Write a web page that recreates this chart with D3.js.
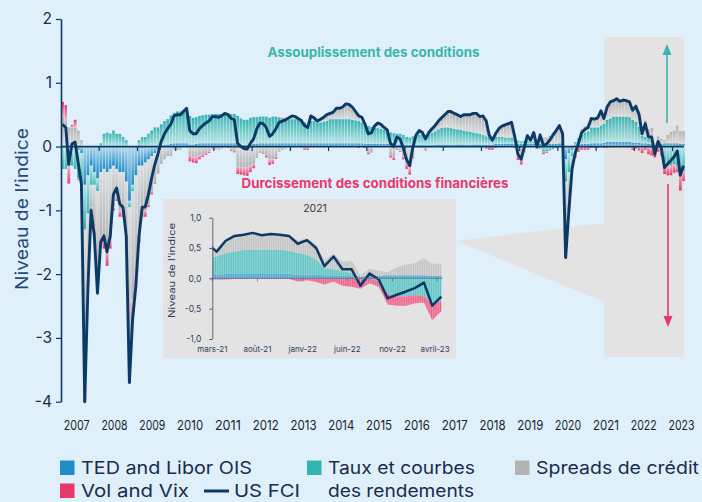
<!DOCTYPE html>
<html lang="fr">
<head>
<meta charset="UTF-8">
<title>US FCI et composantes</title>
<script src="https://d3js.org/d3.v7.min.js"></script>
<style>
  body { margin: 0; background: #dff0fb; }
  svg { display: block; font-family: Inter, 'Open Sans', sans-serif; }
</style>
</head>
<body>
<svg id="chart" width="702" height="502"></svg>
<script>
// monthly values, Jan 2007 -> Apr 2023
const fci = [
  0.35, 0.3, -0.28, 0.04, 0.07, -0.27, -0.6, -4.0, -2.2, -1.0, -1.4, -2.3,
  -1.5, -1.4, -1.65, -1.4, -0.75, -0.65, -0.9, -0.95, -1.4, -3.7, -2.7, -2.2,
  -1.4, -0.95, -0.95, -0.75, -0.5, -0.28, -0.12, 0.08, 0.2, 0.28, 0.35, 0.48,
  0.5, 0.5, 0.55, 0.6, 0.25, 0.2, 0.2, 0.28, 0.33, 0.37, 0.4, 0.47,
  0.47, 0.46, 0.48, 0.52, 0.5, 0.44, 0.42, 0.05, 0.0, -0.03, -0.04, 0.05,
  0.12, 0.28, 0.37, 0.36, 0.3, 0.16, 0.2, 0.28, 0.38, 0.4, 0.42, 0.45,
  0.48, 0.47, 0.44, 0.41, 0.33, 0.3, 0.48, 0.45, 0.4, 0.43, 0.46, 0.5,
  0.52, 0.54, 0.6, 0.6, 0.62, 0.67, 0.66, 0.62, 0.55, 0.48, 0.46, 0.35,
  0.2, 0.22, 0.32, 0.37, 0.35, 0.3, 0.26, 0.05, 0.0, 0.15, 0.12, -0.02,
  -0.2, -0.3, -0.02, 0.18, 0.25, 0.22, 0.12, 0.22, 0.28, 0.33, 0.4, 0.45,
  0.5, 0.55, 0.55, 0.52, 0.5, 0.47, 0.5, 0.5, 0.5, 0.52, 0.52, 0.47,
  0.48, 0.4, 0.18, 0.1, 0.2, 0.28, 0.32, 0.34, 0.36, 0.38, 0.15, -0.12,
  -0.2, 0.0, 0.17, 0.1, 0.22, 0.0, 0.18, 0.02, 0.04, 0.1, 0.18, 0.25,
  0.33, 0.2, -1.74, -1.0, -0.35, -0.1, 0.05, 0.22, 0.27, 0.3, 0.44, 0.43,
  0.45, 0.56, 0.44, 0.62, 0.7, 0.72, 0.75, 0.71, 0.73, 0.72, 0.7, 0.57,
  0.63, 0.5, 0.2, 0.36, 0.15, 0.15, -0.12, 0.08, -0.02, -0.33, -0.27, -0.22,
  -0.16, -0.07, -0.45, -0.3
];
const ted = [
  0, 0, 0, 0, 0, -0.05, -0.1, -0.6, -0.45, -0.3, -0.4, -0.5,
  -0.4, -0.35, -0.4, -0.35, -0.3, -0.35, -0.4, -0.4, -0.55, -0.85, -0.6, -0.45,
  -0.3, -0.3, -0.25, -0.2, -0.15, -0.1, -0.05, 0, 0.02, 0.03, 0.04, 0.05,
  0.05, 0.05, 0.05, 0.05, 0.03, 0.03, 0.04, 0.05, 0.05, 0.05, 0.05, 0.05,
  0.05, 0.05, 0.05, 0.05, 0.05, 0.05, 0.05, 0.03, 0.02, 0.02, 0.02, 0.03,
  0.04, 0.04, 0.05, 0.05, 0.05, 0.05, 0.05, 0.05, 0.05, 0.05, 0.05, 0.05,
  0.05, 0.05, 0.05, 0.05, 0.05, 0.05, 0.05, 0.05, 0.05, 0.05, 0.05, 0.05,
  0.05, 0.05, 0.05, 0.05, 0.05, 0.05, 0.05, 0.05, 0.05, 0.05, 0.05, 0.04,
  0.04, 0.04, 0.04, 0.04, 0.04, 0.04, 0.04, 0.04, 0.03, 0.03, 0.03, 0.03,
  0.02, 0.02, 0.02, 0.02, 0.02, 0.02, 0.02, 0.02, 0.02, 0.02, 0.03, 0.03,
  0.03, 0.03, 0.03, 0.03, 0.03, 0.03, 0.03, 0.03, 0.03, 0.03, 0.03, 0.03,
  0.03, 0.03, 0.03, 0.03, 0.04, 0.04, 0.04, 0.04, 0.04, 0.04, 0.04, 0.04,
  0.04, 0.04, 0.04, 0.04, 0.04, 0.04, 0.04, 0.04, 0.04, 0.04, 0.04, 0.04,
  0.04, 0.04, -0.2, -0.1, -0.05, 0.02, 0.03, 0.04, 0.04, 0.04, 0.05, 0.05,
  0.05, 0.05, 0.06, 0.07, 0.07, 0.07, 0.07, 0.07, 0.07, 0.07, 0.07, 0.06,
  0.06, 0.06, 0.05, 0.05, 0.04, 0.04, 0.03, 0.04, 0.04, 0.05, 0.05, 0.05,
  0.05, 0.05, 0.04, 0.04
];
const taux = [
  -0.35, -0.35, -0.3, -0.3, -0.35, -0.45, -0.5, -0.7, -0.6, -0.3, -0.2, -0.2,
  0.05, 0.2, 0.22, 0.2, 0.25, 0.2, 0.2, 0.15, 0.1, -0.1, -0.1, 0.0,
  0.1, 0.15, 0.15, 0.2, 0.25, 0.3, 0.3, 0.35, 0.38, 0.4, 0.45, 0.48,
  0.5, 0.5, 0.5, 0.5, 0.45, 0.42, 0.42, 0.43, 0.44, 0.45, 0.45, 0.46,
  0.46, 0.46, 0.46, 0.47, 0.47, 0.46, 0.46, 0.45, 0.42, 0.4, 0.4, 0.42,
  0.42, 0.42, 0.42, 0.42, 0.42, 0.4, 0.42, 0.42, 0.4, 0.38, 0.38, 0.38,
  0.38, 0.38, 0.37, 0.37, 0.33, 0.3, 0.35, 0.35, 0.33, 0.33, 0.34, 0.35,
  0.38, 0.38, 0.38, 0.38, 0.38, 0.38, 0.38, 0.37, 0.36, 0.35, 0.33, 0.3,
  0.28, 0.27, 0.26, 0.25, 0.24, 0.22, 0.2, 0.18, 0.18, 0.17, 0.17, 0.15,
  0.13, 0.12, 0.14, 0.16, 0.17, 0.17, 0.16, 0.18, 0.2, 0.22, 0.24, 0.26,
  0.27, 0.27, 0.26, 0.25, 0.24, 0.23, 0.22, 0.21, 0.2, 0.19, 0.18, 0.17,
  0.15, 0.13, 0.12, 0.12, 0.12, 0.11, 0.11, 0.1, 0.1, 0.1, 0.08, 0.05,
  0.04, 0.05, 0.05, 0.04, 0.03, -0.02, -0.03, -0.08, -0.08, -0.06, -0.04, -0.02,
  0.02, 0.03, -0.35, -0.3, -0.1, 0.05, 0.1, 0.15, 0.18, 0.2, 0.25, 0.25,
  0.25, 0.28, 0.3, 0.35, 0.37, 0.4, 0.4, 0.4, 0.4, 0.4, 0.39, 0.36,
  0.33, 0.25, 0.12, 0.1, 0.08, 0.05, 0.0, 0.0, -0.05, -0.25, -0.3, -0.3,
  -0.28, -0.3, -0.42, -0.38
];
const spreads = [
  0.45, 0.4, 0.3, 0.3, 0.3, 0.25, 0.1, -2.2, -1.0, -0.35, -0.65, -1.3,
  -1.0, -1.05, -1.2, -1.1, -0.65, -0.45, -0.6, -0.6, -0.8, -2.3, -1.7, -1.55,
  -1.05, -0.7, -0.75, -0.7, -0.55, -0.45, -0.35, -0.27, -0.2, -0.15, -0.12, -0.05,
  -0.05, -0.05, 0, 0.05, -0.13, -0.15, -0.16, -0.14, -0.12, -0.1, -0.08, -0.04,
  -0.04, -0.05, -0.03, 0.0, -0.02, -0.05, -0.06, -0.3, -0.32, -0.33, -0.32, -0.3,
  -0.27, -0.18, -0.1, -0.1, -0.12, -0.2, -0.2, -0.15, -0.08, -0.05, -0.03, 0.0,
  0.03, 0.03, 0.02, 0.0, -0.02, -0.02, 0.06, 0.04, 0.02, 0.04, 0.06, 0.08,
  0.08, 0.1, 0.15, 0.15, 0.17, 0.21, 0.21, 0.18, 0.13, 0.1, 0.08, 0.03,
  -0.08, -0.07, 0.02, 0.07, 0.06, 0.04, 0.02, -0.12, -0.15, -0.04, -0.06, -0.15,
  -0.27, -0.33, -0.15, 0.0, 0.05, 0.04, -0.04, 0.02, 0.05, 0.08, 0.12, 0.15,
  0.19, 0.23, 0.24, 0.22, 0.21, 0.19, 0.23, 0.24, 0.25, 0.28, 0.29, 0.25,
  0.27, 0.27, 0.08, 0.0, 0.06, 0.13, 0.16, 0.19, 0.21, 0.23, 0.05, -0.13,
  -0.2, -0.06, 0.08, 0.03, 0.15, 0.0, 0.17, 0.1, 0.1, 0.13, 0.18, 0.23,
  0.27, 0.16, -0.9, -0.45, -0.15, -0.1, 0.0, 0.08, 0.1, 0.11, 0.16, 0.15,
  0.17, 0.24, 0.1, 0.22, 0.27, 0.26, 0.28, 0.25, 0.27, 0.26, 0.26, 0.2,
  0.27, 0.25, 0.13, 0.26, 0.15, 0.2, 0.02, 0.12, 0.08, 0.05, 0.13, 0.18,
  0.2, 0.28, 0.2, 0.2
];
const vol = [
  0.25, 0.25, -0.28, 0.04, 0.12, -0.02, -0.1, -0.5, -0.15, -0.05, -0.15, -0.3,
  -0.15, -0.2, -0.27, -0.15, -0.05, -0.05, -0.1, -0.1, -0.15, -0.45, -0.3, -0.2,
  -0.15, -0.1, -0.1, -0.05, -0.05, -0.03, -0.02, 0, 0, 0, -0.02, 0,
  0, 0, 0, 0, -0.1, -0.1, -0.1, -0.06, -0.04, -0.03, -0.02, 0,
  0, 0, 0, 0, 0, -0.02, -0.03, -0.13, -0.12, -0.12, -0.14, -0.1,
  -0.07, 0, 0, -0.01, -0.05, -0.09, -0.07, -0.04, 0.01, 0.02, 0.02, 0.02,
  0.02, 0.01, 0, -0.01, -0.03, -0.03, 0.02, 0.01, 0, 0.01, 0.01, 0.02,
  0.01, 0.01, 0.02, 0.02, 0.02, 0.03, 0.02, 0.02, 0.01, -0.02, 0, -0.02,
  -0.04, -0.02, 0, 0.01, 0.01, 0, 0, -0.05, -0.06, -0.01, -0.02, -0.05,
  -0.08, -0.11, -0.03, 0, 0.01, -0.01, -0.02, 0, 0.01, 0.01, 0.01, 0.01,
  0.01, 0.02, 0.02, 0.02, 0.02, 0.02, 0.02, 0.02, 0.02, 0.02, 0.02, 0.02,
  0.03, -0.03, -0.05, -0.05, -0.02, 0, 0.01, 0.01, 0.01, 0.01, -0.02, -0.08,
  -0.08, -0.03, 0, -0.01, 0, -0.02, 0, -0.04, -0.02, -0.01, 0, 0,
  0, -0.03, -0.29, -0.15, -0.05, -0.07, -0.08, -0.05, -0.05, -0.05, -0.02, -0.02,
  -0.02, -0.01, -0.02, -0.02, -0.01, -0.01, 0, -0.01, -0.01, -0.01, -0.01, -0.05,
  -0.03, -0.06, -0.1, -0.05, -0.12, -0.14, -0.17, -0.08, -0.09, -0.18, -0.15, -0.15,
  -0.13, -0.1, -0.27, -0.16
];

const yearLabels = ['2007','2008','2009','2010','2011','2012','2013','2014','2015',
  '2016','2017','2018','2019','2020','2021','2022','2023'];
const yTicks = [-4, -3, -2, -1, 0, 1, 2];
const insetYTicks = [-1, -0.5, 0, 0.5, 1];
const insetTickDates = ['2021-03-01', '2021-08-01', '2022-01-01', '2022-06-01', '2022-11-01', '2023-04-01'];
const insetTickLabels = ['mars-21', 'août-21', 'janv-22', 'juin-22', 'nov-22', 'avril-23'];

const keys = ['TED', 'Taux', 'Spreads', 'Vol'];
const legendNames = ['TED and Libor OIS', 'Taux et courbes', 'Spreads de crédit', 'Vol and Vix'];
const colors = { TED: '#1f8dc6', Taux: '#36b4b1', Spreads: '#b3b3b3', Vol: '#e8386a' };
const navy = '#0c3a66';
const gray = '#e3e3e3';

const fr = d3.formatLocale({ decimal: ',', thousands: ' ', grouping: [3], currency: ['', ' €'], minus: '-' });

const months = d3.utcMonth.range(new Date(Date.UTC(2007, 0, 1)), new Date(Date.UTC(2023, 4, 1)));
const rows = months.map((d, i) => ({
  date: d,
  mid: new Date(+d + 14.5 * 864e5),
  fci: fci[i], TED: ted[i], Taux: taux[i], Spreads: spreads[i], Vol: vol[i]
}));

const svg = d3.select('#chart');
const defs = svg.append('defs');

// bar gradients: strong colour on the outer end, washed out towards zero
keys.forEach(k => {
  const light = d3.interpolateRgb(colors[k], '#ffffff')(k === 'Spreads' ? 0.55 : 0.65);
  [['pos', colors[k], light], ['neg', light, colors[k]]].forEach(([dir, c0, c1]) => {
    const g = defs.append('linearGradient').attr('id', `g-${k}-${dir}`)
      .attr('x1', 0).attr('y1', 0).attr('x2', 0).attr('y2', 1);
    g.append('stop').attr('offset', '0%').attr('stop-color', c0);
    g.append('stop').attr('offset', '100%').attr('stop-color', c1);
  });
});
const stripes = defs.append('pattern').attr('id', 'stripes')
  .attr('patternUnits', 'userSpaceOnUse').attr('width', 1.8).attr('height', 10);
stripes.append('rect').attr('width', 0.7).attr('height', 10).attr('fill', '#fff').attr('opacity', 0.4);

// ---- main chart ----
const x = d3.scaleUtc()
  .domain([new Date(Date.UTC(2007, 0, 1)), new Date(Date.UTC(2023, 4, 1))])
  .range([61, 685.1]);
const y = d3.scaleLinear().domain([-4, 2]).range([401.7, 19]);
// year labels sit on their own evenly spaced band under the plot
const xLabel = d3.scalePoint().domain(yearLabels).range([76.7, 681.5]);

// highlighted period + link towards inset
const hx0 = x(new Date(Date.UTC(2021, 2, 20)));
const hx1 = x(new Date(Date.UTC(2023, 3, 20)));
svg.append('rect').attr('x', hx0).attr('y', 37).attr('width', hx1 - hx0).attr('height', 320).attr('fill', gray);
svg.append('polygon').attr('points', `456,241 ${hx0},223 ${hx0},302`).attr('fill', gray);

const stacked = d3.stack().keys(keys).offset(d3.stackOffsetDiverging)(rows);

const bars = svg.append('g');
stacked.forEach(s => {
  bars.append('g').selectAll('rect')
    .data(s.filter(d => Math.abs(d[1] - d[0]) > 1e-9))
    .join('rect')
    .attr('x', d => x(d.data.date) + 0.25)
    .attr('width', d => x(d3.utcMonth.offset(d.data.date, 1)) - x(d.data.date) - 0.5)
    .attr('y', d => y(Math.max(d[0], d[1])))
    .attr('height', d => Math.abs(y(d[0]) - y(d[1])))
    .attr('fill', d => `url(#g-${s.key}-${d.data[s.key] >= 0 ? 'pos' : 'neg'})`);
});

// zero line with yearly ticks
svg.append('line').attr('x1', 61).attr('x2', hx1).attr('y1', y(0)).attr('y2', y(0))
  .attr('stroke', navy).attr('stroke-width', 1.8);
svg.append('g').selectAll('line').data(yearLabels.slice(1)).join('line')
  .attr('x1', d => x(new Date(Date.UTC(+d, 0, 1)))).attr('x2', d => x(new Date(Date.UTC(+d, 0, 1))))
  .attr('y1', y(0)).attr('y2', y(0) + 4.5)
  .attr('stroke', navy).attr('stroke-width', 1.2);

svg.append('path').datum(rows)
  .attr('fill', 'none').attr('stroke', navy).attr('stroke-width', 2.9).attr('stroke-linejoin', 'round')
  .attr('d', d3.line().x(d => x(d.mid)).y(d => y(d.fci)));

svg.append('g').attr('transform', 'translate(61,0)')
  .call(d3.axisLeft(y).tickValues(yTicks).tickSize(5).tickSizeOuter(0).tickFormat(fr.format('d')))
  .attr('font-family', null).attr('font-size', null)
  .call(g => g.select('.domain').attr('stroke', navy).attr('stroke-width', 1.6))
  .call(g => g.selectAll('.tick line').attr('stroke', navy).attr('stroke-width', 1.2))
  .call(g => g.selectAll('.tick text').attr('x', -9).attr('font-size', 15.5).attr('fill', '#1c2b4a'));

svg.append('text')
  .attr('transform', 'translate(28,209) rotate(-90)')
  .attr('text-anchor', 'middle').attr('font-size', 17.5).attr('fill', '#24497a')
  .attr('textLength', 162).attr('lengthAdjust', 'spacingAndGlyphs')
  .text('Niveau de l’indice');

svg.append('g').selectAll('text').data(yearLabels).join('text')
  .attr('x', d => xLabel(d))
  .attr('y', 429.7)
  .attr('text-anchor', 'middle').attr('font-size', 13.5).attr('fill', '#1d1d2b')
  .attr('textLength', 26).attr('lengthAdjust', 'spacingAndGlyphs')
  .text(d => d);

// annotations
svg.append('text').attr('x', 373.5).attr('y', 56.5).attr('text-anchor', 'middle')
  .attr('font-size', 13).attr('font-weight', 700).attr('fill', '#3ab5ae')
  .attr('textLength', 212).attr('lengthAdjust', 'spacingAndGlyphs')
  .text('Assouplissement des conditions');
svg.append('text').attr('x', 375).attr('y', 188.3).attr('text-anchor', 'middle')
  .attr('font-size', 13).attr('font-weight', 700).attr('fill', '#e8386a')
  .attr('textLength', 267).attr('lengthAdjust', 'spacingAndGlyphs')
  .text('Durcissement des conditions financières');

// arrows
svg.append('line').attr('x1', 667).attr('x2', 667).attr('y1', 123).attr('y2', 54)
  .attr('stroke', '#3ab5ae').attr('stroke-width', 1.6);
svg.append('polygon').attr('points', '667,44 662.5,55 671.5,55').attr('fill', '#3ab5ae');
svg.append('line').attr('x1', 668).attr('x2', 668).attr('y1', 184).attr('y2', 317)
  .attr('stroke', '#e8386a').attr('stroke-width', 1.6);
svg.append('polygon').attr('points', '668,327 663.5,316 672.5,316').attr('fill', '#e8386a');

// ---- inset 2021-2023 ----
const inset = svg.append('g');
inset.append('rect').attr('x', 163).attr('y', 199).attr('width', 293).attr('height', 159).attr('fill', gray);

const xi = d3.scaleUtc()
  .domain([new Date(Date.UTC(2021, 2, 1)), new Date(Date.UTC(2023, 3, 20))])
  .range([212.3, 442.7]);
const yi = d3.scaleLinear().domain([-1, 1]).range([339, 217.7]);

defs.append('clipPath').attr('id', 'inset-clip')
  .append('rect').attr('x', 212.3).attr('y', 200).attr('width', 442.7 - 212.3).attr('height', 150);

const insetRows = rows.filter(d => d.date >= Date.UTC(2021, 1, 1));
const insetStack = d3.stack().keys(keys).offset(d3.stackOffsetDiverging)(insetRows);
const insetArea = d3.area().x(d => xi(d.data.mid)).y0(d => yi(d[0])).y1(d => yi(d[1]));

const plot = inset.append('g').attr('clip-path', 'url(#inset-clip)');
insetStack.forEach(s => {
  plot.append('path').datum(s)
    .attr('fill', d3.interpolateRgb(colors[s.key], '#ffffff')(0.2))
    .attr('d', insetArea);
  plot.append('path').datum(s).attr('fill', 'url(#stripes)').attr('d', insetArea);
});

inset.append('line').attr('x1', 212.3).attr('x2', 442.7).attr('y1', yi(0)).attr('y2', yi(0))
  .attr('stroke', '#5d6d84').attr('stroke-width', 0.8);
inset.append('g').selectAll('line').data(insetTickDates).join('line')
  .attr('x1', d => xi(new Date(d))).attr('x2', d => xi(new Date(d)))
  .attr('y1', yi(0)).attr('y2', yi(0) + 3)
  .attr('stroke', '#5d6d84').attr('stroke-width', 0.8);

plot.append('path').datum(insetRows)
  .attr('fill', 'none').attr('stroke', navy).attr('stroke-width', 2.5).attr('stroke-linejoin', 'round')
  .attr('d', d3.line().x(d => xi(d.mid)).y(d => yi(d.fci)));

inset.append('g').attr('transform', 'translate(212.3,0)')
  .call(d3.axisLeft(yi).tickValues(insetYTicks).tickSize(3).tickSizeOuter(0).tickFormat(fr.format('.1f')))
  .attr('font-family', null).attr('font-size', null)
  .call(g => g.select('.domain').attr('stroke', '#4b5b73').attr('stroke-width', 0.9))
  .call(g => g.selectAll('.tick line').attr('stroke', '#4b5b73'))
  .call(g => g.selectAll('.tick text').attr('x', -11).attr('font-size', 8.5).attr('fill', '#2f3d58'));

inset.append('g').selectAll('text').data(insetTickLabels).join('text')
  .attr('x', (d, i) => xi(new Date(insetTickDates[i])) + (i === insetTickLabels.length - 1 ? -2 : 0))
  .attr('y', 351.5).attr('text-anchor', 'middle').attr('font-size', 8).attr('fill', '#2f3d58')
  .text(d => d);

inset.append('text').attr('x', 315).attr('y', 212).attr('text-anchor', 'middle')
  .attr('font-size', 10.5).attr('fill', '#33363f').text('2021');
inset.append('text')
  .attr('transform', 'translate(175,270.5) rotate(-90)')
  .attr('text-anchor', 'middle').attr('font-size', 9).attr('fill', '#2f3d58')
  .attr('textLength', 95).attr('lengthAdjust', 'spacingAndGlyphs')
  .text('Niveau de l’indice');

// ---- legend ----
const legend = svg.append('g').attr('font-size', 17.5).attr('fill', '#1c2b4a');
const legendItems = [
  { key: 'TED', x: 60, row: 0, w: 171 },
  { key: 'Taux', x: 307, row: 0, w: 147 },
  { key: 'Spreads', x: 515, row: 0, w: 163 },
  { key: 'Vol', x: 60, row: 1, w: 108 }
];
legendItems.forEach(it => {
  const base = 474 + it.row * 23;
  legend.append('rect').attr('x', it.x).attr('y', base - 13.5).attr('width', 14.5).attr('height', 14.5)
    .attr('fill', colors[it.key]);
  legend.append('text').attr('x', it.x + 21).attr('y', base)
    .attr('textLength', it.w).attr('lengthAdjust', 'spacingAndGlyphs')
    .text(legendNames[keys.indexOf(it.key)]);
});
legend.append('text').attr('x', 328).attr('y', 497)
  .attr('textLength', 146).attr('lengthAdjust', 'spacingAndGlyphs').text('des rendements');
legend.append('line').attr('x1', 204).attr('x2', 229).attr('y1', 491).attr('y2', 491)
  .attr('stroke', navy).attr('stroke-width', 3);
legend.append('text').attr('x', 234).attr('y', 497)
  .attr('textLength', 66).attr('lengthAdjust', 'spacingAndGlyphs').text('US FCI');
</script>
</body>
</html>
